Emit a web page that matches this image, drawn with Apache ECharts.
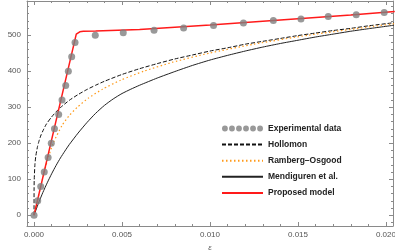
<!DOCTYPE html>
<html><head><meta charset="utf-8">
<script src="https://cdn.jsdelivr.net/npm/echarts@6/dist/echarts.min.js"></script>
<style>html,body{margin:0;padding:0;background:#fff}#c{width:395px;height:250px}</style>
</head><body><div id="c"></div>
<script>
// Experimental data (strain, stress MPa)
var expStrain = [0, 0.00021, 0.00038, 0.00058, 0.0008, 0.00098, 0.00116, 0.0014, 0.00159, 0.0018, 0.00195, 0.00214, 0.00233, 0.00348, 0.00507, 0.00682, 0.0085, 0.0102, 0.0119, 0.0136, 0.01517, 0.01672, 0.01831, 0.0199];
var expStress = [0, 40, 80, 120, 160, 200, 240, 280, 320, 360, 400, 440, 480, 500, 507, 514, 520, 527, 534, 541, 545, 552, 557, 563];

// Hollomon
var holStrain = [0, 0.000002, 0.00001, 0.00005, 0.0001, 0.0002, 0.0003, 0.0004, 0.00055, 0.0007, 0.001, 0.00125, 0.0015, 0.002, 0.0025, 0.003, 0.0035, 0.004, 0.005, 0.006, 0.007, 0.008, 0.009, 0.010, 0.011, 0.012, 0.013, 0.014, 0.015, 0.016, 0.017, 0.018, 0.019, 0.0205];
var holStress = [0, 69, 98, 141, 164, 191, 209, 223, 239, 253, 273, 287, 299, 319, 335, 349, 361, 372, 391, 407, 421, 434, 445, 456, 465, 475, 483, 491, 499, 506, 513, 519, 526, 535];

// Ramberg–Osgood
var roStrain = [0, 0.000238, 0.00048, 0.000746, 0.001087, 0.0016, 0.00197, 0.00246, 0.00308, 0.00389, 0.00492, 0.00624, 0.00788, 0.00994, 0.01248, 0.01558, 0.01935, 0.0205];
var roStress = [0, 50, 100, 150, 200, 250, 275, 300, 325, 350, 375, 400, 425, 450, 475, 500, 525, 532];

// Mendiguren et al.
var menStrain = [0, 0.00025, 0.0005, 0.00075, 0.001, 0.00125, 0.0015, 0.00175, 0.002, 0.0025, 0.003, 0.0035, 0.004, 0.0045, 0.005, 0.0055, 0.006, 0.007, 0.008, 0.009, 0.010, 0.011, 0.012, 0.013, 0.014, 0.015, 0.016, 0.017, 0.018, 0.019, 0.0205];
var menStress = [0, 33, 63, 90, 115, 138, 159, 178, 196, 228, 257, 283, 305, 323, 338, 350, 361, 381, 399, 416, 431, 444, 456, 467, 477, 486, 495, 503, 511, 518, 528];

// Proposed model
var propStrain = [0, 0.0024, 0.0025, 0.0026, 0.0028, 0.0035, 0.006, 0.010, 0.014, 0.018, 0.0205];
var propStress = [0, 503, 507, 509.5, 511, 512, 516, 528, 542, 556, 566];

var seriesNames = ['Experimental data', 'Hollomon', 'Ramberg\u2013Osgood', 'Mendiguren et al.', 'Proposed model'];
var xTicks = [0, 0.005, 0.010, 0.015, 0.020];
var yTicks = [0, 100, 200, 300, 400, 500];

function pairs(a, b) { return a.map(function (v, i) { return [v, b[i]]; }); }

var dotsIcon = 'path://' + [0,1,2,3,4,5].map(function (k) {
  var cx = 3 + k * 7.2;
  return 'M' + (cx - 3) + ',3a3,3 0 1,0 6,0a3,3 0 1,0 -6,0Z';
}).join('');

var frameColor = '#8a8a8a';
var labelColor = '#555';
var fontFam = '"Liberation Sans", Arial, sans-serif';

function xAxisCfg(pos, showLabel) {
  return {
    type: 'value', position: pos, min: -0.0004, max: 0.0204, splitNumber: 5,
    axisLine: { show: true, onZero: false, lineStyle: { color: frameColor, width: 1 } },
    axisTick: { show: true, inside: true, length: 4, lineStyle: { color: frameColor } },
    minorTick: { show: true, splitNumber: 5, length: 2, lineStyle: { color: frameColor } },
    splitLine: { show: false },
    axisLabel: {
      show: showLabel, showMinLabel: false, showMaxLabel: false, margin: 5,
      color: labelColor, fontSize: 8, fontFamily: fontFam,
      formatter: function (v) { return xTicks.some(function (t) { return Math.abs(t - v) < 1e-9; }) ? v.toFixed(3) : ''; }
    },
    name: showLabel ? '\u03b5' : '', nameLocation: 'middle', nameGap: 13,
    nameTextStyle: { color: labelColor, fontSize: 8, fontStyle: 'italic', fontFamily: fontFam }
  };
}
function yAxisCfg(pos, showLabel) {
  return {
    type: 'value', position: pos, min: -30, max: 595, splitNumber: 5,
    axisLine: { show: true, onZero: false, lineStyle: { color: frameColor, width: 1 } },
    axisTick: { show: true, inside: true, length: 4, lineStyle: { color: frameColor } },
    minorTick: { show: true, splitNumber: 5, length: 2, lineStyle: { color: frameColor } },
    splitLine: { show: false },
    axisLabel: {
      show: showLabel, showMinLabel: false, showMaxLabel: false, margin: 6,
      color: labelColor, fontSize: 8, fontFamily: fontFam,
      formatter: function (v) { return yTicks.indexOf(v) >= 0 ? String(v) : ''; }
    },
    name: showLabel ? '\u03c3(\u03b5)  [MPa]' : '', nameLocation: 'middle', nameGap: 19, nameRotate: 90,
    nameTextStyle: { color: labelColor, fontSize: 8, fontFamily: fontFam }
  };
}

var noSym = { color: 'rgba(0,0,0,0)', borderWidth: 0, opacity: 0 };

var chart = echarts.init(document.getElementById('c'), null, { renderer: 'canvas' });
chart.setOption({
  animation: false,
  backgroundColor: '#fff',
  grid: { left: 27, right: 2, top: 1, bottom: 24, containLabel: false, outerBoundsMode: 'none' },
  xAxis: [xAxisCfg('bottom', true), xAxisCfg('top', false)],
  yAxis: [yAxisCfg('left', true), yAxisCfg('right', false)],
  legend: {
    orient: 'vertical', left: 221, top: 124, padding: 0, itemWidth: 41, itemHeight: 8, itemGap: 7.1,
    textStyle: { color: '#222', fontSize: 8.5, fontWeight: 'bold', fontFamily: fontFam },
    data: [
      { name: seriesNames[0], icon: dotsIcon },
      { name: seriesNames[1], itemStyle: noSym },
      { name: seriesNames[2], itemStyle: noSym },
      { name: seriesNames[3], itemStyle: noSym },
      { name: seriesNames[4], itemStyle: noSym }
    ]
  },
  series: [
    { name: seriesNames[4], type: 'line', data: pairs(propStrain, propStress), symbol: 'none', z: 4,
      lineStyle: { color: '#ff1a1a', width: 1.5 }, itemStyle: { color: '#ff1a1a' } },
    { name: seriesNames[0], type: 'scatter', data: pairs(expStrain, expStress), symbolSize: 7, z: 5,
      itemStyle: { color: '#7f7f7f' } },
    { name: seriesNames[1], type: 'line', data: pairs(holStrain, holStress), symbol: 'none', smooth: 0.2, z: 3,
      lineStyle: { color: '#111', width: 1, type: [4, 2] }, itemStyle: { color: '#111' } },
    { name: seriesNames[2], type: 'line', data: pairs(roStrain, roStress), symbol: 'none', smooth: 0.2, z: 3,
      lineStyle: { color: '#ff9a1a', width: 1.2, type: [1.5, 2.5] }, itemStyle: { color: '#ff9a1a' } },
    { name: seriesNames[3], type: 'line', data: pairs(menStrain, menStress), symbol: 'none', smooth: 0.2, z: 3,
      lineStyle: { color: '#222', width: 1 }, itemStyle: { color: '#222' } }
  ]
});
</script></body></html>
